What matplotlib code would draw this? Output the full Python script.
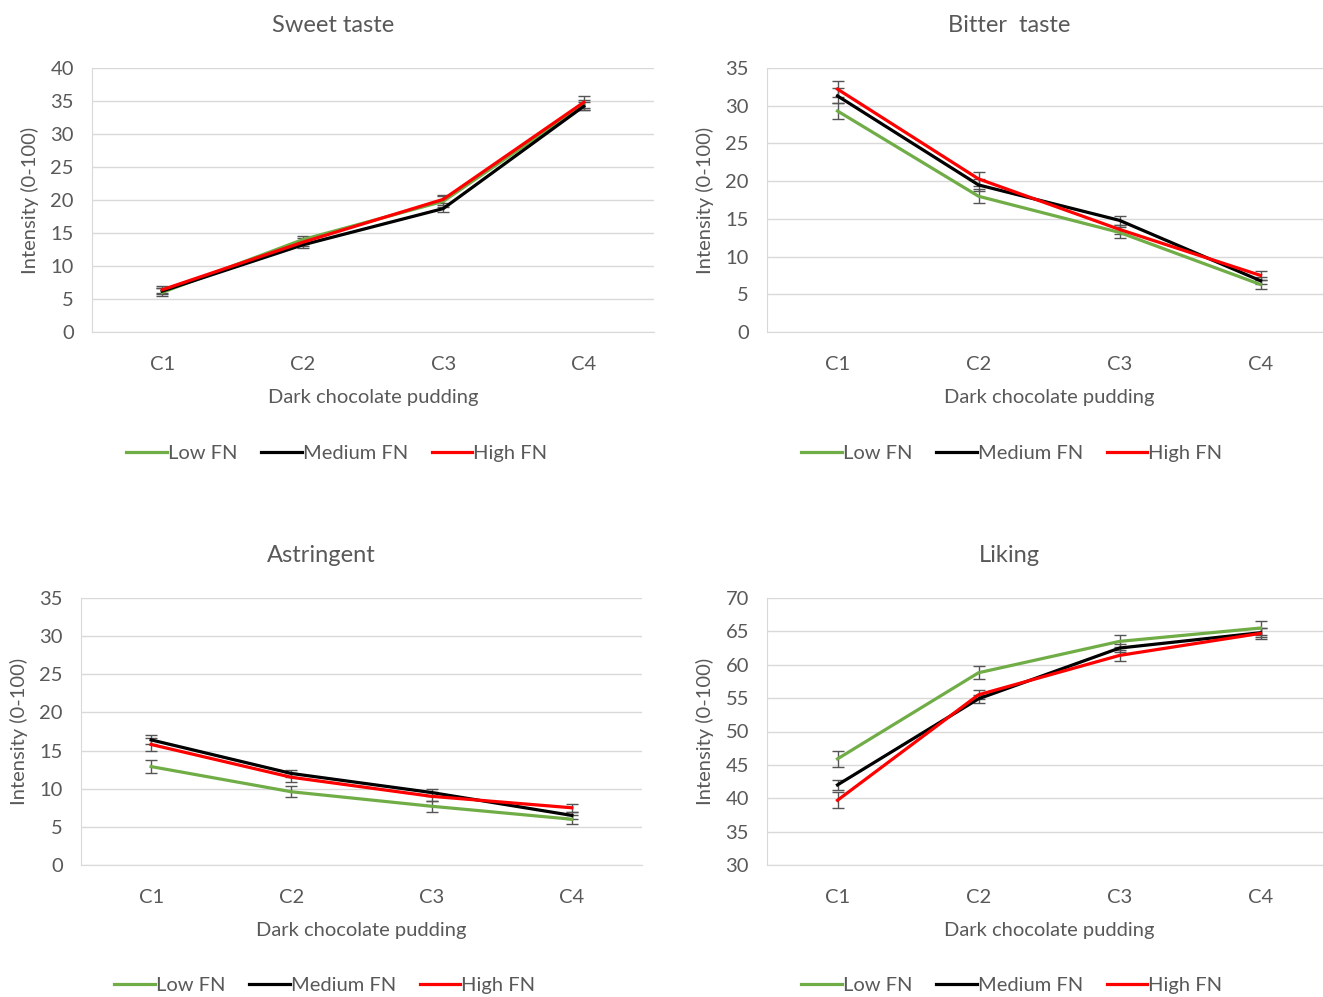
import matplotlib.pyplot as plt
import numpy as np

plt.rcParams['font.family'] = ['Lato', 'DejaVu Sans']

categories = ['C1', 'C2', 'C3', 'C4']
series_names = ['Low FN', 'Medium FN', 'High FN']
colors = ['#70ad47', '#000000', '#ff0000']

titles = ['Sweet taste', 'Bitter  taste', 'Astringent', 'Liking']

sweet_low = [6.0, 14.0, 19.8, 34.4]
sweet_med = [6.2, 13.2, 18.7, 34.2]
sweet_high = [6.4, 13.6, 20.1, 34.8]
sweet_err = [[0.6, 0.6, 0.8, 0.8], [0.5, 0.5, 0.5, 0.6], [0.5, 0.6, 0.6, 0.9]]

bitter_low = [29.3, 18.0, 13.2, 6.3]
bitter_med = [31.3, 19.5, 14.8, 6.8]
bitter_high = [32.2, 20.3, 13.6, 7.5]
bitter_err = [[1.1, 0.9, 0.7, 0.6], [1.0, 0.8, 0.6, 0.5], [1.1, 0.9, 0.6, 0.6]]

astr_low = [12.9, 9.6, 7.7, 6.0]
astr_med = [16.4, 12.0, 9.5, 6.5]
astr_high = [15.8, 11.5, 9.0, 7.5]
astr_err = [[0.9, 0.7, 0.7, 0.6], [0.6, 0.5, 0.4, 0.5], [0.8, 0.6, 0.6, 0.5]]

liking_low = [45.9, 58.8, 63.5, 65.5]
liking_med = [42.0, 54.9, 62.5, 64.8]
liking_high = [39.7, 55.5, 61.4, 64.7]
liking_err = [[1.2, 1.0, 0.9, 1.1], [0.8, 0.6, 0.6, 0.7], [1.2, 0.7, 0.8, 0.8]]

panels = [
    ([sweet_low, sweet_med, sweet_high], sweet_err, (0, 40)),
    ([bitter_low, bitter_med, bitter_high], bitter_err, (0, 35)),
    ([astr_low, astr_med, astr_high], astr_err, (0, 35)),
    ([liking_low, liking_med, liking_high], liking_err, (30, 70)),
]

# axes boxes in pixels: left, top, right, bottom
boxes = [(92, 68, 654, 332), (767, 68, 1331, 332),
         (81, 598, 642, 865), (767, 598, 1331, 865)]
# chart-area centres (title and legend are centred on these)
title_pos = [(333, 26), (1009, 26), (321, 556), (1009, 556)]
legend_pos = [(337, 453), (1012, 453), (325, 985), (1012, 985)]

W, H = 1323, 997
fig = plt.figure(figsize=(W / 100, H / 100), dpi=100)
text_color = '#595959'
grid_color = '#d9d9d9'
fs = 14.5

for i, ((vals, errs, ylim), (l, t, r, b), title) in enumerate(zip(panels, boxes, titles)):
    ax = fig.add_axes([l / W, 1 - b / H, (r - l) / W, (b - t) / H])
    x = np.arange(1, len(categories) + 1)
    for v, e, name, c in zip(vals, errs, series_names, colors):
        ax.errorbar(x, v, yerr=e, fmt='none', ecolor='#555555', elinewidth=1,
                    capsize=4, capthick=1, zorder=2)
        ax.plot(x, v, color=c, linewidth=2.3, label=name, zorder=3)
    ax.set_xlim(0.5, 4.5)
    ax.set_ylim(*ylim)
    ax.set_yticks(np.arange(ylim[0], ylim[1] + 1, 5))
    ax.set_xticks(x)
    ax.set_xticklabels(categories)
    ax.grid(axis='y', color=grid_color, linewidth=1)
    ax.set_axisbelow(True)
    for s in ['top', 'right']:
        ax.spines[s].set_visible(False)
    for s in ['left', 'bottom']:
        ax.spines[s].set_color(grid_color)
    ax.tick_params(length=0, labelsize=fs, colors=text_color, pad=13)
    ax.tick_params(axis='x', pad=17)
    ax.set_xlabel('Dark chocolate pudding', fontsize=fs, color=text_color, labelpad=12)
    ax.set_ylabel('Intensity (0-100)', fontsize=fs, color=text_color, labelpad=8)
    tx, ty = title_pos[i]
    fig.text(tx / W, 1 - ty / H, title, fontsize=17, color=text_color,
             ha='center', va='center')
    lx, ly = legend_pos[i]
    ax.legend(loc='center', bbox_to_anchor=(lx / W, 1 - ly / H),
              bbox_transform=fig.transFigure, ncol=3, frameon=False,
              fontsize=fs, handlelength=2.0, handletextpad=0.05, columnspacing=1.2,
              labelcolor=text_color)

fig.savefig('out.png', dpi=100)
